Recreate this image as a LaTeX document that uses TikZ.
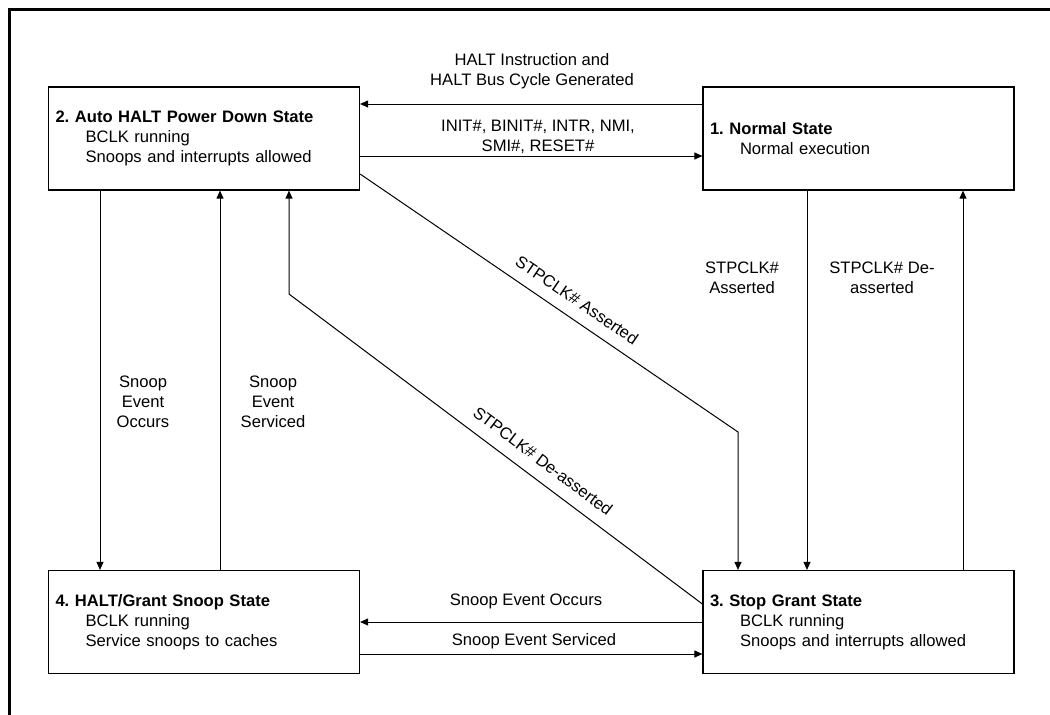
\documentclass[tikz,border=0pt]{standalone}
\usepackage{fontspec}
\setmainfont{Liberation Sans}
\usetikzlibrary{arrows.meta}
\tikzset{
  statebox/.style={draw, line width=1.2pt, minimum width=311pt, minimum height=103pt,
    text width=297pt, inner xsep=7pt, align=left},
  arr/.style={line width=1pt, -{Triangle[length=8pt,width=7pt]}},
  lbl/.style={align=center, inner sep=0pt},
}
\newcommand{\ind}{\hspace*{30pt}}
\frenchspacing
\begin{document}
\begin{tikzpicture}[x=1pt,y=-1pt,font=\fontsize{16.6}{20}\selectfont]
    \useasboundingbox (0,0) rectangle (1050,715);
    % frame
    \draw[line width=2.6pt] (9.5,715) -- (9.5,9.5) -- (1050,9.5);
    % states
    \node[statebox] (halt) at (204,138.5) {\textbf{2. Auto HALT Power Down State}\\\ind BCLK running\\\ind Snoops and interrupts allowed};
    \node[statebox] (normal) at (858.5,138.5) {\textbf{1. Normal State}\\\ind Normal execution};
    \node[statebox] (snoop) at (204,622) {\textbf{4. HALT/Grant Snoop State}\\\ind BCLK running\\\ind Service snoops to caches};
    \node[statebox] (stop) at (858.5,622) {\textbf{3. Stop Grant State}\\\ind BCLK running\\\ind Snoops and interrupts allowed};
    % bends of the two long paths
    \coordinate (ca) at (738,432);
    \coordinate (cd) at (289,294);
    % horizontal
    \draw[arr] ([yshift=34.5pt]normal.west) -- ([yshift=34.5pt]halt.east);
    \draw[arr] ([yshift=-17.5pt]halt.east) -- ([yshift=-17.5pt]normal.west);
    \draw[arr] (stop.west) -- (snoop.east);
    \draw[arr] ([yshift=-32pt]snoop.east) -- ([yshift=-32pt]stop.west);
    % vertical
    \draw[arr] ([xshift=-104pt]halt.south) -- ([xshift=-104pt]snoop.north);
    \draw[arr] ([xshift=16pt]snoop.north) -- ([xshift=16pt]halt.south);
    \draw[arr] ([xshift=-51.5pt]normal.south) -- ([xshift=-51.5pt]stop.north);
    \draw[arr] ([xshift=104.5pt]stop.north) -- ([xshift=104.5pt]normal.south);
    % diagonal
    \draw[arr] ([yshift=-35.5pt]halt.east) -- (ca) -- (ca |- stop.north);
    \draw[arr] ([yshift=18pt]stop.west) -- (cd) -- (cd |- halt.south);
    % labels
    \node[lbl] (l1) at (532,71.5) {HALT Instruction and\\HALT Bus Cycle Generated};
    \node[lbl] (l2) at (538,137) {INIT\#, BINIT\#, INTR, NMI,\\SMI\#, RESET\#};
    \node[lbl] (l3) at (526,601) {Snoop Event Occurs};
    \node[lbl] (l4) at (534,641) {Snoop Event Serviced};
    \node[lbl] (l5) at (143,402) {Snoop\\Event\\Occurs};
    \node[lbl] (l6) at (273,402) {Snoop\\Event\\Serviced};
    \node[lbl] (l7) at (742,278) {STPCLK\#\\Asserted};
    \node[lbl] (l8) at (882,278) {STPCLK\# De-\\asserted};
    \node[lbl, rotate=-34.2] (l9) at (577,300) {STPCLK\# Asserted};
    \node[lbl, rotate=-36.8] (l10) at (543,461) {STPCLK\# De-asserted};
\end{tikzpicture}
\end{document}
